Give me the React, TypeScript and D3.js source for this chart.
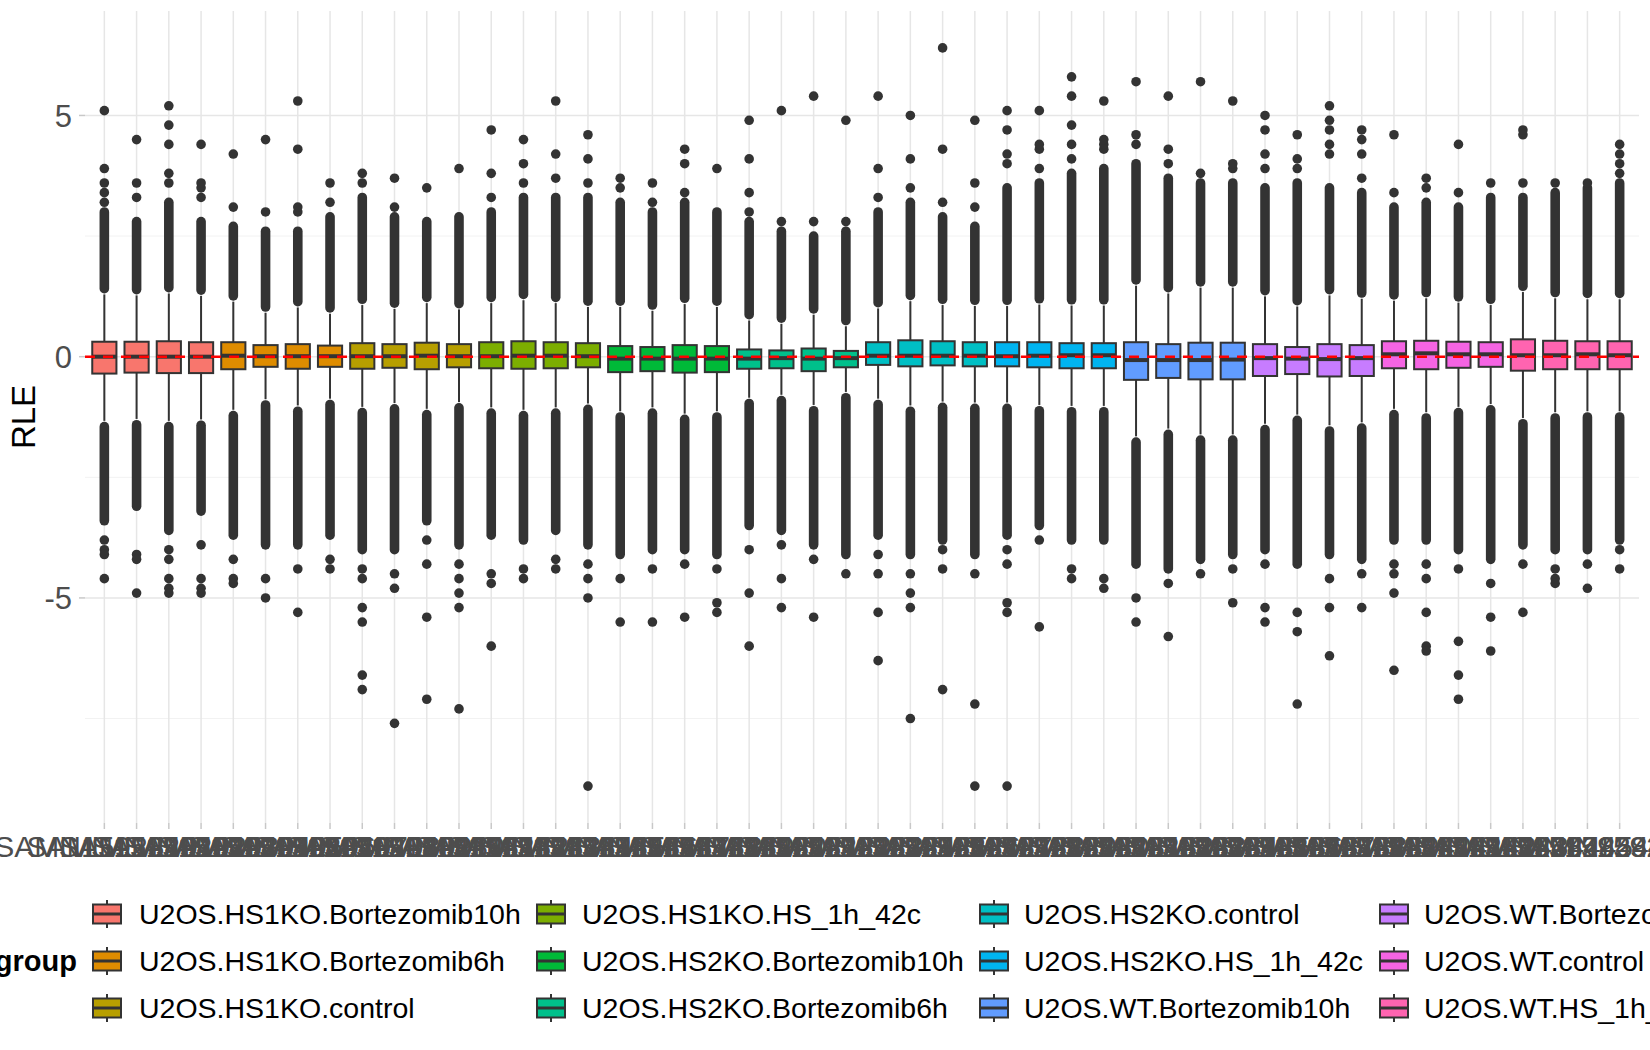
import React, { useEffect, useRef } from 'react';
import * as d3 from 'd3';

const GROUPS = [
  'U2OS.HS1KO.Bortezomib10h', 'U2OS.HS1KO.Bortezomib6h', 'U2OS.HS1KO.control',
  'U2OS.HS1KO.HS_1h_42c', 'U2OS.HS2KO.Bortezomib10h', 'U2OS.HS2KO.Bortezomib6h',
  'U2OS.HS2KO.control', 'U2OS.HS2KO.HS_1h_42c', 'U2OS.WT.Bortezomib10h',
  'U2OS.WT.Bortezomib6h', 'U2OS.WT.control', 'U2OS.WT.HS_1h_42c'
];

const GROUP_COLORS = [
  '#F8766D', '#DE8C00', '#B79F00', '#7CAE00', '#00BA38', '#00C08B',
  '#00BFC4', '#00B4F0', '#619CFF', '#C77CFF', '#F564E3', '#FF64B0'
];

const SAMPLE_GROUP = [
  0, 0, 0, 0, 1, 1, 1, 1, 2, 2, 2, 2, 3, 3, 3, 3, 4, 4, 4, 4, 5, 5, 5, 5,
  6, 6, 6, 6, 7, 7, 7, 7, 8, 8, 8, 8, 9, 9, 9, 9, 10, 10, 10, 10, 11, 11, 11, 11
];

const SAMPLE_LABELS = [
  'SAMN15928401', 'SAMN15928402', 'SAMN15928403', 'SAMN15928404',
  'SAMN15928405', 'SAMN15928406', 'SAMN15928407', 'SAMN15928408',
  'SAMN15928409', 'SAMN15928410', 'SAMN15928411', 'SAMN15928412',
  'SAMN15928413', 'SAMN15928414', 'SAMN15928415', 'SAMN15928416',
  'SAMN15928417', 'SAMN15928418', 'SAMN15928419', 'SAMN15928420',
  'SAMN15928421', 'SAMN15928422', 'SAMN15928423', 'SAMN15928424',
  'SAMN15928425', 'SAMN15928426', 'SAMN15928427', 'SAMN15928428',
  'SAMN15928429', 'SAMN15928430', 'SAMN15928431', 'SAMN15928432',
  'SAMN15928433', 'SAMN15928434', 'SAMN15928435', 'SAMN15928436',
  'SAMN15928437', 'SAMN15928438', 'SAMN15928439', 'SAMN15928440',
  'SAMN15928441', 'SAMN15928442', 'SAMN15928443', 'SAMN15928444',
  'SAMN15928445', 'SAMN15928446', 'SAMN15928447', 'SAMN15928448'
];

const Q1 = [
  -0.35, -0.33, -0.34, -0.34, -0.26, -0.21, -0.25, -0.21, -0.25, -0.23, -0.26, -0.22,
  -0.24, -0.25, -0.24, -0.22, -0.32, -0.30, -0.33, -0.32, -0.25, -0.24, -0.30, -0.22,
  -0.17, -0.20, -0.18, -0.20, -0.20, -0.22, -0.24, -0.24, -0.48, -0.44, -0.47, -0.47,
  -0.40, -0.36, -0.41, -0.40, -0.24, -0.26, -0.23, -0.21, -0.29, -0.26, -0.26, -0.26
];
const MEDIAN = [
  0.0, 0.0, 0.0, 0.0, 0.02, 0.01, 0.01, 0.01, 0.01, 0.01, 0.02, 0.01,
  0.01, 0.02, 0.02, 0.01, -0.04, -0.04, -0.04, -0.04, -0.04, -0.03, -0.04, -0.03,
  0.02, 0.02, 0.02, 0.02, 0.01, 0.02, 0.03, 0.03, -0.07, -0.07, -0.07, -0.06,
  -0.03, -0.04, -0.05, -0.03, 0.05, 0.07, 0.05, 0.05, 0.03, 0.03, 0.05, 0.03
];
const Q3 = [
  0.31, 0.31, 0.32, 0.30, 0.30, 0.24, 0.26, 0.23, 0.28, 0.26, 0.29, 0.26,
  0.30, 0.32, 0.30, 0.28, 0.22, 0.20, 0.24, 0.22, 0.15, 0.13, 0.17, 0.12,
  0.30, 0.34, 0.32, 0.30, 0.30, 0.30, 0.28, 0.28, 0.30, 0.26, 0.29, 0.29,
  0.26, 0.20, 0.26, 0.24, 0.32, 0.33, 0.31, 0.30, 0.36, 0.33, 0.32, 0.32
];
const WHISKER_LO = [
  -1.33, -1.29, -1.33, -1.30, -1.10, -0.88, -1.01, -0.87, -1.04, -0.96, -1.08, -0.94,
  -1.05, -1.10, -1.05, -0.97, -1.13, -1.05, -1.18, -1.13, -0.85, -0.79, -1.00, -0.73,
  -0.87, -1.01, -0.93, -0.95, -0.95, -1.00, -1.02, -1.02, -1.65, -1.49, -1.61, -1.61,
  -1.39, -1.20, -1.42, -1.36, -1.08, -1.15, -1.04, -0.98, -1.27, -1.15, -1.13, -1.13
];
const WHISKER_HI = [
  1.29, 1.27, 1.31, 1.26, 1.14, 0.91, 1.02, 0.89, 1.07, 0.99, 1.11, 0.98,
  1.11, 1.17, 1.11, 1.03, 1.03, 0.95, 1.09, 1.03, 0.75, 0.68, 0.87, 0.63,
  1.00, 1.15, 1.07, 1.05, 1.05, 1.08, 1.06, 1.06, 1.47, 1.31, 1.43, 1.43,
  1.25, 1.04, 1.27, 1.20, 1.16, 1.21, 1.12, 1.07, 1.34, 1.21, 1.19, 1.19
];
// extent of the solid run of overlapping outlier points beyond each whisker
const DENSE_LO = [
  -3.4, -3.1, -3.6, -3.2, -3.7, -3.9, -3.9, -3.7, -4.0, -4.0, -3.4, -3.9,
  -3.7, -3.8, -3.6, -3.9, -4.1, -4.0, -4.0, -4.1, -3.5, -3.6, -3.9, -4.1,
  -3.7, -4.1, -3.8, -4.1, -3.7, -3.5, -3.8, -3.8, -4.3, -4.4, -4.2, -4.1,
  -4.0, -4.3, -4.1, -4.2, -3.8, -3.8, -4.0, -4.2, -3.9, -4.0, -4.0, -3.8
];
const DENSE_HI = [
  3.0, 2.8, 3.2, 2.8, 2.7, 2.6, 2.6, 2.9, 3.3, 2.9, 2.8, 2.9,
  3.0, 3.3, 3.3, 3.3, 3.2, 3.0, 3.2, 3.0, 2.8, 2.6, 2.5, 2.6,
  3.0, 3.2, 2.9, 2.7, 3.5, 3.6, 3.8, 3.9, 4.0, 3.7, 3.6, 3.6,
  3.5, 3.6, 3.5, 3.4, 3.1, 3.2, 3.1, 3.3, 3.3, 3.4, 3.5, 3.6
];
const OUTLIERS_HI = [
  [3.2, 3.4, 3.6, 3.9, 5.1], [3.3, 3.6, 4.5], [3.6, 3.8, 4.4, 4.8, 5.2], [3.3, 3.5, 3.6, 4.4],
  [3.1, 4.2], [3.0, 4.5], [3.0, 3.1, 4.3, 5.3], [3.2, 3.6],
  [3.6, 3.8], [3.1, 3.7], [3.5], [3.9],
  [3.3, 3.8, 4.7], [3.6, 4.0, 4.5], [3.7, 4.2, 5.3], [3.6, 4.1, 4.6],
  [3.5, 3.7], [3.2, 3.6], [3.4, 4.0, 4.3], [3.9],
  [3.0, 3.4, 4.1, 4.9], [2.8, 5.1], [2.8, 5.4], [2.8, 4.9],
  [3.3, 3.9, 5.4], [3.5, 4.1, 5.0], [3.2, 4.3, 6.4], [3.1, 3.6, 4.9],
  [4.0, 4.2, 4.7, 5.1], [3.9, 4.3, 4.4, 5.1], [4.1, 4.4, 4.8, 5.4, 5.8], [4.3, 4.4, 4.5, 5.3],
  [4.4, 4.6, 5.7], [4.0, 4.3, 5.4], [3.8, 5.7], [3.9, 4.0, 5.3],
  [3.9, 4.2, 4.7, 5.0], [3.9, 4.1, 4.6], [4.2, 4.4, 4.7, 4.9, 5.2], [3.7, 4.2, 4.5, 4.7],
  [3.4, 4.6], [3.5, 3.7], [3.4, 4.4], [3.6],
  [3.6, 4.6, 4.7], [3.6], [3.6], [3.8, 4.0, 4.2, 4.4]
];
const OUTLIERS_LO = [
  [-3.8, -4.0, -4.1, -4.6], [-4.1, -4.2, -4.9], [-4.0, -4.2, -4.6, -4.8, -4.9], [-3.9, -4.6, -4.8, -4.9],
  [-4.2, -4.6, -4.7], [-4.6, -5.0], [-4.4, -5.3], [-4.2, -4.4],
  [-4.4, -4.6, -5.2, -5.5, -6.6, -6.9], [-4.5, -4.8, -7.6], [-3.8, -4.3, -5.4, -7.1], [-4.3, -4.6, -4.9, -5.2, -7.3],
  [-4.5, -4.7, -6.0], [-4.4, -4.6], [-4.2, -4.4], [-4.3, -4.6, -5.0, -8.9],
  [-4.6, -5.5], [-4.4, -5.5], [-4.3, -5.4], [-4.4, -5.1, -5.3],
  [-4.0, -4.9, -6.0], [-3.9, -4.6, -5.2], [-4.2, -5.4], [-4.5],
  [-4.1, -4.5, -5.3, -6.3], [-4.5, -4.9, -5.2, -7.5], [-4.0, -4.4, -6.9], [-4.5, -7.2, -8.9],
  [-4.0, -4.3, -5.1, -5.3, -8.9], [-3.8, -5.6], [-4.4, -4.6], [-4.6, -4.8],
  [-5.0, -5.5], [-4.7, -5.8], [-4.5], [-4.4, -5.1],
  [-4.3, -5.2, -5.5], [-5.3, -5.7, -7.2], [-4.6, -5.2, -6.2], [-4.5, -5.2],
  [-4.3, -4.5, -4.9, -6.5], [-4.3, -4.6, -5.3, -6.0, -6.1], [-4.4, -5.9, -6.6, -7.1], [-4.7, -5.4, -6.1],
  [-4.3, -5.3], [-4.4, -4.6, -4.7], [-4.3, -4.8], [-4.0, -4.4]
];

const Y_TICKS = [-5, 0, 5];
const Y_MINOR = [-7.5, -2.5, 2.5];

const FONT = '"Liberation Sans", Arial, Helvetica, sans-serif';
const INK = '#333333';

const App: React.FC = () => {
  const ref = useRef<SVGSVGElement>(null);

  useEffect(() => {
    if (!ref.current) return;
    const svg = d3.select(ref.current);
    svg.selectAll('*').remove();

    const panel = { left: 85, right: 1639, top: 11, bottom: 823 };

    const x = d3.scalePoint<string>()
      .domain(SAMPLE_LABELS)
      .range([panel.left, panel.right])
      .padding(0.6);
    const step = x.step();
    const boxW = step * 0.75;

    const allVals = [...OUTLIERS_HI.flat(), ...OUTLIERS_LO.flat()];
    const [lo, hi] = d3.extent(allVals) as [number, number];
    const pad = (hi - lo) * 0.05;
    const y = d3.scaleLinear().domain([lo - pad, hi + pad]).range([panel.bottom, panel.top]);

    // grid
    const grid = svg.append('g');
    grid.selectAll('.minor').data(Y_MINOR).enter().append('line')
      .attr('x1', panel.left).attr('x2', panel.right)
      .attr('y1', d => y(d)).attr('y2', d => y(d))
      .attr('stroke', '#F2F2F2').attr('stroke-width', 1);
    grid.selectAll('.major').data(Y_TICKS).enter().append('line')
      .attr('x1', panel.left).attr('x2', panel.right)
      .attr('y1', d => y(d)).attr('y2', d => y(d))
      .attr('stroke', '#E6E6E6').attr('stroke-width', 1.5);
    grid.selectAll('.vx').data(SAMPLE_LABELS).enter().append('line')
      .attr('x1', d => x(d)!).attr('x2', d => x(d)!)
      .attr('y1', panel.top).attr('y2', panel.bottom)
      .attr('stroke', '#E6E6E6').attr('stroke-width', 1.5);

    // ticks
    svg.append('g').selectAll('line').data(Y_TICKS).enter().append('line')
      .attr('x1', panel.left - 6).attr('x2', panel.left)
      .attr('y1', d => y(d)).attr('y2', d => y(d))
      .attr('stroke', '#C8C8C8').attr('stroke-width', 1.5);
    svg.append('g').selectAll('line').data(SAMPLE_LABELS).enter().append('line')
      .attr('x1', d => x(d)!).attr('x2', d => x(d)!)
      .attr('y1', panel.bottom).attr('y2', panel.bottom + 6)
      .attr('stroke', '#C8C8C8').attr('stroke-width', 1.5);

    // y tick labels
    svg.append('g').selectAll('text').data(Y_TICKS).enter().append('text')
      .attr('x', 72).attr('y', d => y(d))
      .attr('dy', '0.36em')
      .attr('text-anchor', 'end')
      .attr('font-family', FONT).attr('font-size', 31)
      .attr('fill', '#4D4D4D')
      .text(d => (d < 0 ? '-' + Math.abs(d) : String(d)));

    // x tick labels (they overlap, as in the original)
    svg.append('g').selectAll('text').data(SAMPLE_LABELS).enter().append('text')
      .attr('x', d => x(d)!).attr('y', 857)
      .attr('text-anchor', 'middle')
      .attr('font-family', FONT).attr('font-size', 30)
      .attr('fill', '#4D4D4D')
      .text(d => d);

    // axis title
    svg.append('text')
      .attr('transform', `translate(35,${(panel.top + panel.bottom) / 2}) rotate(-90)`)
      .attr('text-anchor', 'middle')
      .attr('font-family', FONT).attr('font-size', 33)
      .attr('fill', '#000')
      .text('RLE');

    // boxplots
    const boxes = svg.append('g');
    SAMPLE_LABELS.forEach((s, i) => {
      const cx = x(s)!;
      const g = boxes.append('g');
      const fill = GROUP_COLORS[SAMPLE_GROUP[i]];

      // whiskers
      g.append('line')
        .attr('x1', cx).attr('x2', cx)
        .attr('y1', y(Q3[i])).attr('y2', y(WHISKER_HI[i]))
        .attr('stroke', INK).attr('stroke-width', 2);
      g.append('line')
        .attr('x1', cx).attr('x2', cx)
        .attr('y1', y(Q1[i])).attr('y2', y(WHISKER_LO[i]))
        .attr('stroke', INK).attr('stroke-width', 2);

      // dense outlier runs
      const r = 4.8;
      g.append('line')
        .attr('x1', cx).attr('x2', cx)
        .attr('y1', y(WHISKER_HI[i]) - r - 1).attr('y2', y(DENSE_HI[i]))
        .attr('stroke', INK).attr('stroke-width', r * 2)
        .attr('stroke-linecap', 'round');
      g.append('line')
        .attr('x1', cx).attr('x2', cx)
        .attr('y1', y(WHISKER_LO[i]) + r + 1).attr('y2', y(DENSE_LO[i]))
        .attr('stroke', INK).attr('stroke-width', r * 2)
        .attr('stroke-linecap', 'round');

      // sparse outliers
      g.selectAll('.o').data([...OUTLIERS_HI[i], ...OUTLIERS_LO[i]]).enter().append('circle')
        .attr('cx', cx).attr('cy', d => y(d)).attr('r', r)
        .attr('fill', INK);

      // box
      g.append('rect')
        .attr('x', cx - boxW / 2).attr('width', boxW)
        .attr('y', y(Q3[i])).attr('height', y(Q1[i]) - y(Q3[i]))
        .attr('fill', fill).attr('stroke', INK).attr('stroke-width', 2);
      g.append('line')
        .attr('x1', cx - boxW / 2).attr('x2', cx + boxW / 2)
        .attr('y1', y(MEDIAN[i])).attr('y2', y(MEDIAN[i]))
        .attr('stroke', INK).attr('stroke-width', 4);
    });

    // reference line
    svg.append('line')
      .attr('x1', panel.left).attr('x2', panel.right)
      .attr('y1', y(0)).attr('y2', y(0))
      .attr('stroke', '#FF0000').attr('stroke-width', 2.6)
      .attr('stroke-dasharray', '10,8');

    // legend
    const legend = svg.append('g');
    const colKeyX = [93, 537, 980, 1380];
    const colTextX = [139, 582, 1024, 1424];
    const rowY = [914, 961, 1008];
    legend.append('text')
      .attr('x', 77).attr('y', rowY[1])
      .attr('dy', '0.36em')
      .attr('text-anchor', 'end')
      .attr('font-family', FONT).attr('font-size', 29).attr('font-weight', 'bold')
      .attr('fill', '#000')
      .text('group');
    GROUPS.forEach((name, gi) => {
      const col = Math.floor(gi / 3);
      const row = gi % 3;
      const kx = colKeyX[col];
      const cy = rowY[row];
      const kw = 28;
      const kh = 19;
      legend.append('line')
        .attr('x1', kx + kw / 2).attr('x2', kx + kw / 2)
        .attr('y1', cy - 14).attr('y2', cy + 14)
        .attr('stroke', INK).attr('stroke-width', 2);
      legend.append('rect')
        .attr('x', kx).attr('y', cy - kh / 2)
        .attr('width', kw).attr('height', kh)
        .attr('fill', GROUP_COLORS[gi]).attr('stroke', INK).attr('stroke-width', 2);
      legend.append('line')
        .attr('x1', kx).attr('x2', kx + kw)
        .attr('y1', cy).attr('y2', cy)
        .attr('stroke', INK).attr('stroke-width', 3);
      legend.append('text')
        .attr('x', colTextX[col]).attr('y', cy)
        .attr('dy', '0.36em')
        .attr('font-family', FONT).attr('font-size', 28.5)
        .attr('fill', '#000')
        .text(name);
    });
  }, []);

  return (
    <svg
      ref={ref}
      width={1650}
      height={1050}
      style={{ position: 'absolute', left: 0, top: 0, background: '#fff' }}
    />
  );
};

export default App;
